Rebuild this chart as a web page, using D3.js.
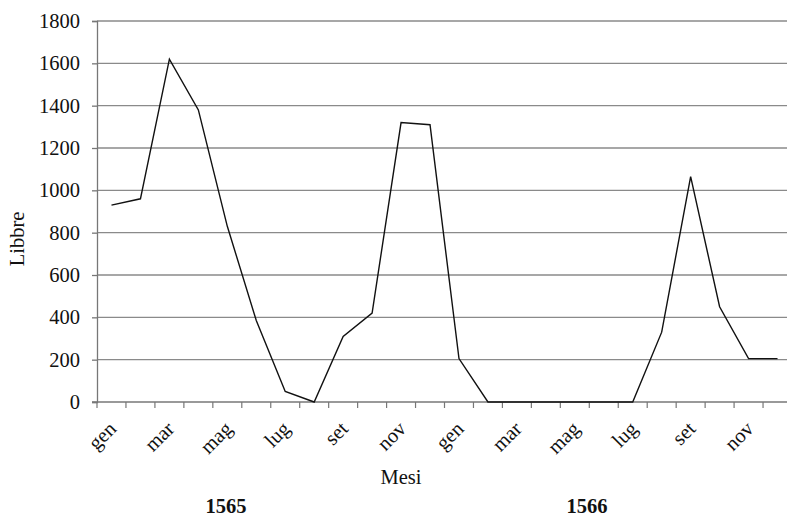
<!DOCTYPE html>
<html>
<head>
<meta charset="utf-8">
<script src="https://cdn.jsdelivr.net/npm/d3@7"></script>
<style>
  body { margin: 0; background: #fff; }
  svg text { font-family: "Liberation Serif", "DejaVu Serif", serif; fill: #111; }
</style>
</head>
<body>
<div id="chart"></div>
<script>
// 24 months, Jan 1565 .. Dec 1566
const months = ['gen', 'feb', 'mar', 'apr', 'mag', 'giu', 'lug', 'ago', 'set', 'ott', 'nov', 'dic']
const years = ['1565', '1566']
const libbre = [
  930, 960, 1620, 1380, 830, 385, 50, 0, 310, 420, 1320, 1310,
  205, 0, 0, 0, 0, 0, 0, 330, 1065, 450, 205, 205
]
const yTicks = [0, 200, 400, 600, 800, 1000, 1200, 1400, 1600, 1800]

const keys = []
years.forEach(y => months.forEach(m => keys.push(m + ' ' + y)))
const data = keys.map((k, i) => ({ key: k, month: k.split(' ')[0], value: libbre[i] }))

const width = 787, height = 517
const svg = d3.select('#chart').append('svg')
  .attr('width', width)
  .attr('height', height)

// plot runs a little past the right edge, like the original crop
const x = d3.scaleBand().domain(keys).range([97, 792])
const y = d3.scaleLinear().domain([0, 1800]).range([402, 21])

// gridlines
svg.append('g')
  .selectAll('line')
  .data(yTicks.filter(d => d > 0))
  .enter().append('line')
  .attr('x1', 97).attr('x2', 792)
  .attr('y1', d => y(d)).attr('y2', d => y(d))
  .attr('stroke', '#8a8a8a')
  .attr('stroke-width', 1.3)

// y axis
const yAxis = svg.append('g')
  .attr('transform', 'translate(97,0)')
  .call(d3.axisLeft(y).tickValues(yTicks).tickFormat(d3.format('d')).tickSize(5).tickPadding(12))
yAxis.select('.domain').attr('stroke', '#777').attr('stroke-width', 1.3)
yAxis.selectAll('.tick line').attr('stroke', '#777').attr('stroke-width', 1.3)
yAxis.selectAll('text').style('font-size', '20.5px').attr('fill', '#111')

// x axis: ticks on band edges
const xAxis = svg.append('g')
  .attr('transform', 'translate(0,402)')
xAxis.append('line')
  .attr('x1', 92).attr('x2', 792)
  .attr('stroke', '#777').attr('stroke-width', 1.3)
xAxis.selectAll('line.tk')
  .data(keys)
  .enter().append('line')
  .attr('class', 'tk')
  .attr('x1', d => x(d)).attr('x2', d => x(d))
  .attr('y1', 0).attr('y2', 6)
  .attr('stroke', '#777').attr('stroke-width', 1.2)

xAxis.selectAll('text')
  .data(data.filter((d, i) => i % 2 === 0))
  .enter().append('text')
  .attr('transform', d => `translate(${x(d.key) + x.bandwidth() / 2 + 1},${23}) rotate(-45)`)
  .attr('text-anchor', 'end')
  .attr('dy', '0.35em')
  .style('font-size', '20.5px')
  .text(d => d.month)

// line
const line = d3.line()
  .x(d => x(d.key) + x.bandwidth() / 2)
  .y(d => y(d.value))
svg.append('path')
  .datum(data)
  .attr('d', line)
  .attr('fill', 'none')
  .attr('stroke', '#111')
  .attr('stroke-width', 1.4)
  .attr('stroke-linejoin', 'miter')

// axis titles
svg.append('text')
  .attr('transform', 'translate(24,239) rotate(-90)')
  .attr('text-anchor', 'middle')
  .style('font-size', '20.5px')
  .text('Libbre')

svg.append('text')
  .attr('x', 401).attr('y', 484)
  .attr('text-anchor', 'middle')
  .style('font-size', '20.5px')
  .text('Mesi')

svg.selectAll('text.year')
  .data(years)
  .enter().append('text')
  .attr('class', 'year')
  .attr('x', (d, i) => [226, 587][i])
  .attr('y', 513)
  .attr('text-anchor', 'middle')
  .style('font-size', '20.5px')
  .style('font-weight', 'bold')
  .text(d => d)
</script>
</body>
</html>
